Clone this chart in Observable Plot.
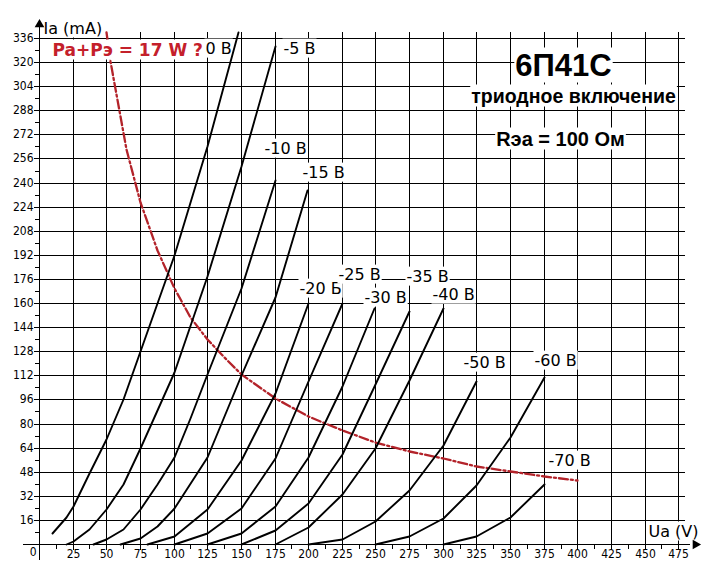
<!DOCTYPE html>
<html><head><meta charset="utf-8">
<script src="https://cdn.jsdelivr.net/npm/d3@7"></script>
<script src="https://cdn.jsdelivr.net/npm/@observablehq/plot@0.6"></script>
<style>body{margin:0;background:#fff;} svg{display:block}</style>
</head><body><div id="chart"></div>
<script>
// Grid-voltage curve labels (as in the original, incl. "-20 Б")
const gridLabels = ["0 В","-5 В","-10 В","-15 В","-20 Б","-25 В","-30 В","-35 В","-40 В","-50 В","-60 В","-70 В"];
// Anode voltage (V) points of each curve
const uaPoints = [
  [10,20,25,37.5,50,62.5,75,100,125,148],
  [20,25,37.5,50,62.5,75,87.5,100,125,150,175],
  [40,50,62.5,75,87.5,100,112.5,125,150,175],
  [60,75,87.5,100,125,150,175,199],
  [80,100,125,150,175,200],
  [100,125,150,175,200,225],
  [125,150,175,200,225,249],
  [150,175,200,225,250,275],
  [175,200,225,250,275,300],
  [200,225,250,275,300,325],
  [250,275,300,325,350,375],
  [300,325,350,375]
];
// Anode current (mA) points of each curve
const iaPoints = [
  [7,18,25,47,70,96,128,192,264,340],
  [0,2,10,23,40,64,89,114,178,251,331],
  [0,3,10,23,40,58,84,113,170,242],
  [0,4,12,24,58,112,164,235],
  [0,5,23,56,100,160],
  [0,7,24,57,108,160],
  [0,7,25,58,105,157],
  [0,9,27,60,106,155],
  [0,11,33,64,109,157],
  [0,3,15,36,66,108],
  [0,5,17,39,71,111],
  [0,5,18,40]
];
// Label anchor positions (data units)
const labelUa = [123.3,181.1,167.4,195.2,193.4,222.4,241.5,272.5,291.8,315.3,367.8,378.4];
const labelIa = [329.5,329.4,263.3,246.7,170.3,179,163.7,178.1,166,120.9,122.2,55.8];
// Max dissipation curve Pa+Pэ = 17 W (read points)
const powerUa = [50,53,60,65,75,87.5,100,112.5,125,137.5,150,175,200,225,250,275,300,325,350,375,400];
const powerIa = [340,321,284,262,227,195,170,151,136,124,113,97,85,76,68,62,57,52,48.7,45,42.5];
// Ticks
const xTicks = [25,50,75,100,125,150,175,200,225,250,275,300,325,350,375,400,425,450,475];
const yTicks = [16,32,48,64,80,96,112,128,144,160,176,192,208,224,240,256,272,288,304,320,336];
const xMinor = [12.5,37.5,62.5,87.5,112.5,137.5,162.5,187.5,212.5,237.5,262.5,287.5,312.5,337.5,362.5,387.5,412.5,437.5,462.5];
const yMinor = [8,24,40,56,72,88,104,120,136,152,168,184,200,216,232,248,264,280,296,312,328];
// Text annotations
const titleTexts = ["6П41С","триодное включение","Rэа = 100 Ом"];
const titleUa = [389.5,396.8,387.1];
const titleIa = [311.4,293.5,265];
const titleSizes = [31,19.5,20];
const powerLabel = "Pa+Pэ = 17 W ?";
const yTitle = "Ia (mA)";
const xTitle = "Ua (V)";

const curveData = [];
uaPoints.forEach((us, k) => us.forEach((u, j) => curveData.push({g: gridLabels[k], ua: u, ia: iaPoints[k][j]})));
const powerData = powerUa.map((u, j) => ({ua: u, ia: powerIa[j]}));
const labelData = gridLabels.map((t, k) => ({t, ua: labelUa[k], ia: labelIa[k]}));
const titleData = titleTexts.map((t, k) => ({t, ua: titleUa[k], ia: titleIa[k], s: titleSizes[k]}));

const red = "#b3232a";
const narrow = "'Liberation Sans Narrow','DejaVu Sans Condensed',sans-serif";
const crisp = {stroke: "black", strokeWidth: 1, shapeRendering: "crispEdges"};

const chart = Plot.plot({
  width: 720, height: 576,
  marginLeft: 39, marginRight: 35, marginTop: 32, marginBottom: 32,
  x: {domain: [0, 480], axis: null, round: true},
  y: {domain: [0, 340], axis: null, round: true},
  style: {fontFamily: narrow, fontSize: "12px", background: "white", color: "black"},
  marks: [
    Plot.ruleY(yTicks, {x1: -4, x2: 480, ...crisp}),
    Plot.ruleX(xTicks, {y1: -4, y2: 340, ...crisp}),
    Plot.ruleX(xMinor, {y1: -3, y2: 0, ...crisp}),
    Plot.ruleY(yMinor, {x1: -3, x2: 0, ...crisp}),
    Plot.ruleX([0], {y1: -10.6, y2: 344, ...crisp}),
    Plot.ruleY([0], {x1: -11.9, x2: 484, ...crisp}),
    Plot.line(powerData, {x: "ua", y: "ia", stroke: red, strokeWidth: 2.3, strokeDasharray: "9,3,2,3"}),
    Plot.text([powerLabel], {x: 9.7, y: 324.7, text: d => d, textAnchor: "start", lineAnchor: "bottom", fill: "#c4202b", fontWeight: "bold", fontSize: 17, fontFamily: "'DejaVu Sans',sans-serif"}),
    Plot.text(labelData, {x: "ua", y: "ia", text: "t", textAnchor: "start", fontSize: 16, fontFamily: "'DejaVu Sans',sans-serif", fill: "black"}),
    Plot.text(titleData, {x: "ua", y: "ia", text: "t", textAnchor: "middle", lineAnchor: "bottom", fontSize: d => d.s, fontWeight: "bold", fontFamily: "'Liberation Sans',Arial,sans-serif", fill: "black"}),
    Plot.text([yTitle], {x: 3.0, y: 339.5, text: d => d, textAnchor: "start", lineAnchor: "bottom", fontSize: 16, fontFamily: "'DejaVu Sans',sans-serif"}),
    Plot.text([xTitle], {x: 452.5, y: 5.6, text: d => d, textAnchor: "start", lineAnchor: "bottom", fontSize: 16, fontFamily: "'DejaVu Sans',sans-serif"}),
    Plot.line(curveData, {x: "ua", y: "ia", z: "g", stroke: "black", strokeWidth: 1.9, strokeLinejoin: "round"}),
    Plot.dot([0], {x: 0, y: 345.6, symbol: "triangle", r: 3.6, fill: "black", stroke: null}),
    Plot.dot([0], {x: 487.1, y: 0, symbol: "triangle", r: 3.6, rotate: 90, fill: "black", stroke: null}),
    Plot.axisY(yTicks, {tickSize: 0, tickPadding: 6, label: null, fontSize: 12}),
    Plot.axisY([0], {tickSize: 0, tickPadding: 3, dy: 7.5, label: null, fontSize: 12}),
    Plot.axisX(xTicks, {tickSize: 0, tickPadding: 5, label: null, fontSize: 12})
  ]
});
document.getElementById("chart").append(chart);

// White label boxes behind annotation texts (as in the original)
const ns = "http://www.w3.org/2000/svg";
chart.querySelectorAll('g[aria-label="text"] text').forEach(t => {
  const b = t.getBBox();
  const r = document.createElementNS(ns, "rect");
  r.setAttribute("x", b.x - 1);
  r.setAttribute("y", b.y);
  r.setAttribute("width", b.width + 2);
  r.setAttribute("height", b.height);
  r.setAttribute("fill", "white");
  r.setAttribute("stroke", "none");
  const tr = t.getAttribute("transform");
  if (tr) r.setAttribute("transform", tr);
  t.parentNode.insertBefore(r, t);
});
</script>
</body></html>
